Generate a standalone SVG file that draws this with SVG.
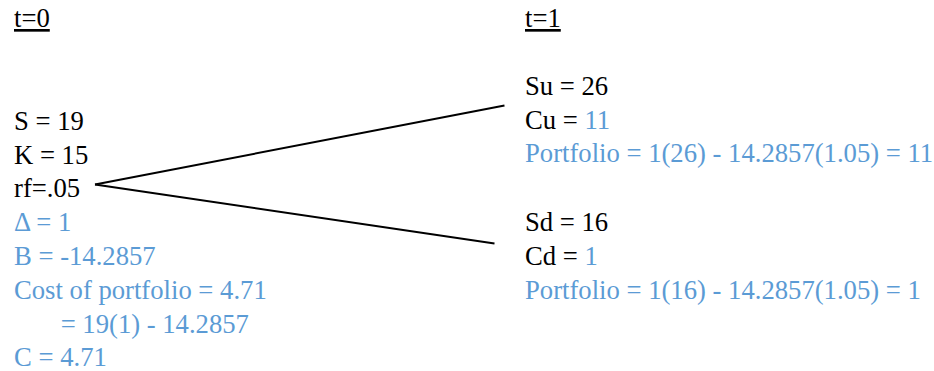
<svg xmlns="http://www.w3.org/2000/svg" width="934" height="371" viewBox="0 0 934 371">
<style>
text{font-family:"Liberation Serif","Times New Roman",serif;font-size:26.67px;fill:#000}
.b{fill:#5b9bd5}
.u{text-decoration:underline}
.c{stroke:#000;stroke-width:2;fill:none}
</style>
<rect width="934" height="371" fill="#fff"/>
<g id="headers">
<text x="14" y="27" class="u">t=0</text>
<text x="525" y="27" class="u">t=1</text>
</g>
<g id="connectors">
<line class="c" x1="95" y1="184.5" x2="504.5" y2="105.5"/>
<line class="c" x1="95" y1="184.5" x2="494.5" y2="243.5"/>
</g>
<g id="node-t0">
<text x="14" y="130">S = 19</text>
<text x="14" y="163.5">K = 15</text>
<text x="14" y="197">rf=.05</text>
<text x="14" y="231" class="b">Δ = 1</text>
<text x="14" y="265" class="b">B = -14.2857</text>
<text x="14" y="298.5" class="b">Cost of portfolio = 4.71</text>
<text x="14" y="332.5" class="b" xml:space="preserve">       = 19(1) - 14.2857</text>
<text x="14" y="366" class="b">C = 4.71</text>
</g>
<g id="node-up">
<text x="525" y="95">Su = 26</text>
<text x="525" y="128.5">Cu = <tspan class="b">11</tspan></text>
<text x="525" y="162" class="b">Portfolio = 1(26) - 14.2857(1.05) = 11</text>
</g>
<g id="node-down">
<text x="525" y="231">Sd = 16</text>
<text x="525" y="265">Cd = <tspan class="b">1</tspan></text>
<text x="525" y="299" class="b">Portfolio = 1(16) - 14.2857(1.05) = 1</text>
</g>
</svg>
